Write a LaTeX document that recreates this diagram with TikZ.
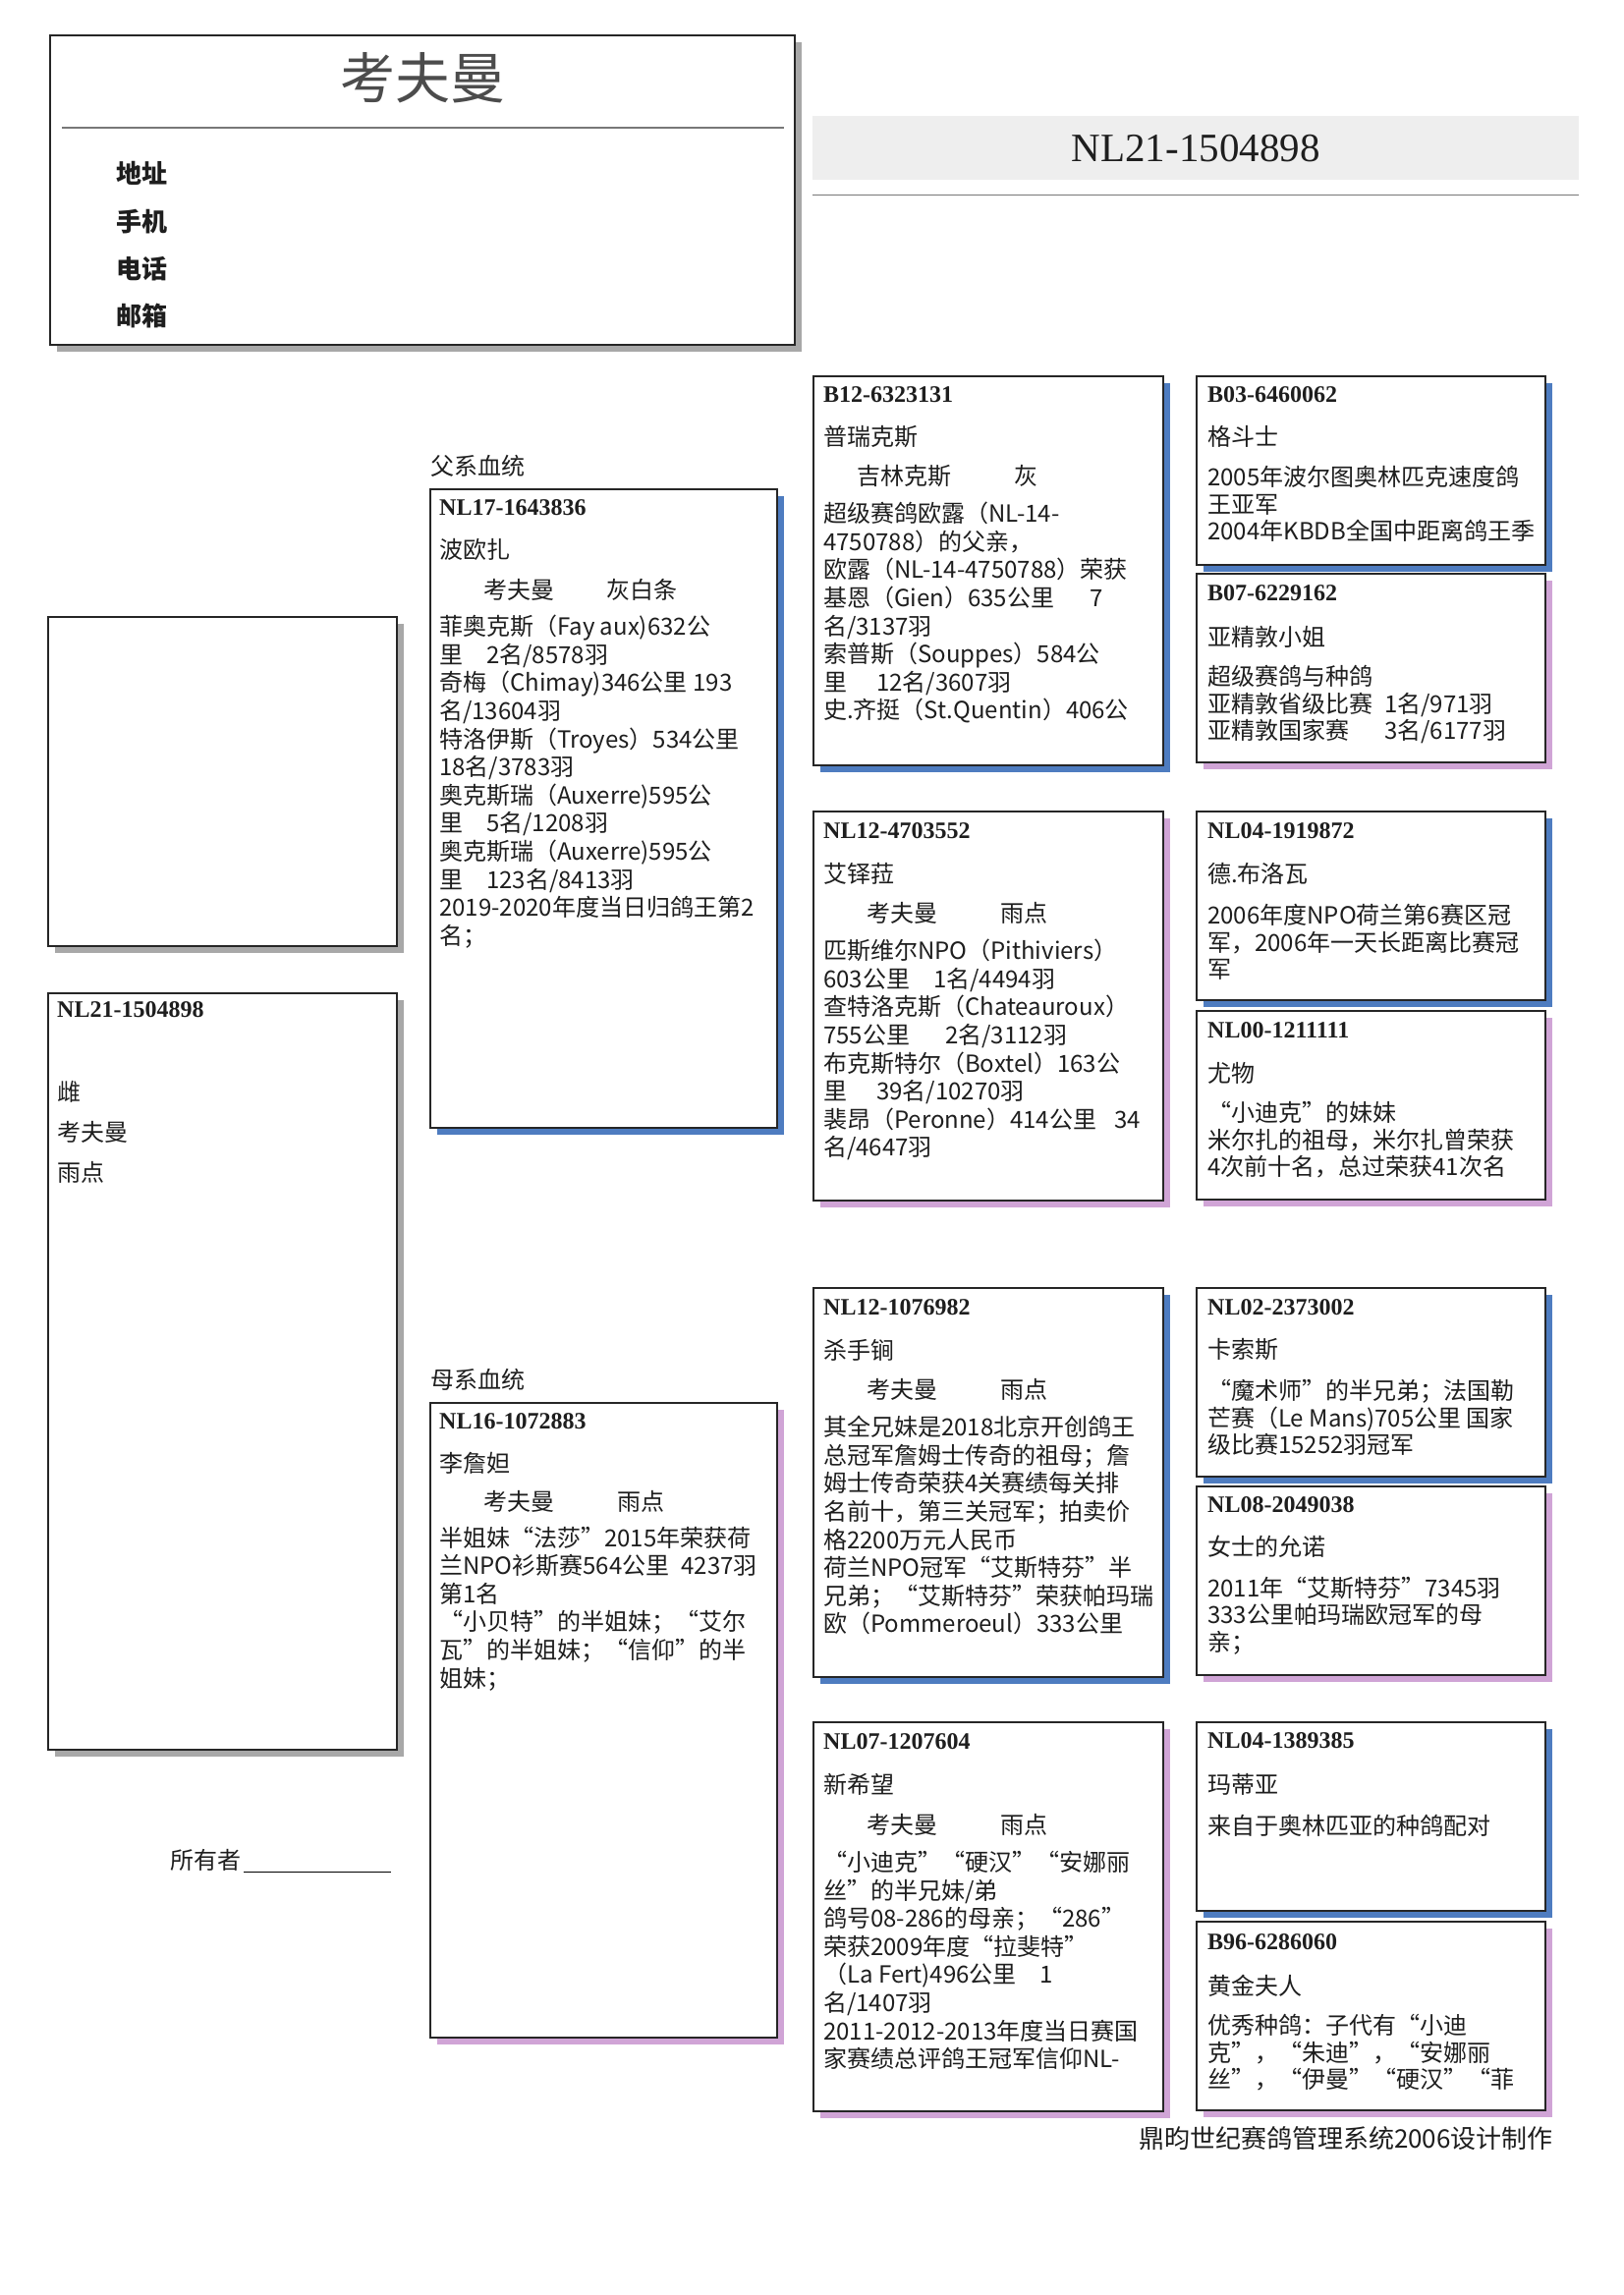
\documentclass[tikz,border=0pt]{standalone}
\usepackage{fontspec}
\setmainfont{Noto Sans CJK SC}
\newfontfamily\idfont{Liberation Serif}
\usetikzlibrary{positioning,shadows}
\definecolor{shblue}{RGB}{78,124,192}
\definecolor{shpink}{RGB}{208,164,214}
\definecolor{shgray}{RGB}{168,168,168}
\definecolor{boxline}{RGB}{38,38,38}
\definecolor{bandgray}{RGB}{238,238,238}
\definecolor{rulegray}{RGB}{120,120,120}
\definecolor{ink}{RGB}{30,30,30}

\begin{document}
\begin{tikzpicture}[x=1pt,y=-1pt,text=ink,
    pedbox/.style={draw=boxline,line width=2pt,fill=white,anchor=north west,inner sep=0pt},
    cock/.style={drop shadow={shadow xshift=7pt,shadow yshift=-7pt,fill=shblue,opacity=1}},
    hen/.style={drop shadow={shadow xshift=7pt,shadow yshift=-7pt,fill=shpink,opacity=1}},
    plainshadow/.style={drop shadow={shadow xshift=7pt,shadow yshift=-7pt,fill=shgray,opacity=1}},
    genone/.style={pedbox,minimum width=353pt,minimum height=650pt},
    gentwo/.style={pedbox,minimum width=356pt,minimum height=396pt},
    genthree/.style={pedbox,minimum width=355pt,minimum height=192pt},
    ring/.style={anchor=west,inner sep=0pt,font=\idfont\bfseries\fontsize{24}{24}\selectfont},
    bird/.style={anchor=west,inner sep=0pt,font=\fontsize{24}{24}\selectfont},
    info/.style={anchor=north west,inner sep=0pt,align=left,font=\fontsize{24}{28.6}\selectfont},
    infos/.style={info,font=\fontsize{24}{27.5}\selectfont}]
  \useasboundingbox[fill=white] (0,0) rectangle (1653,2336);

  % breeder card
  \node[pedbox,plainshadow,minimum width=758pt,minimum height=315pt] (card) at (50,35) {};
  \node[font=\fontsize{56}{56}\selectfont,text=black!70] (breeder) at ([yshift=-44pt]card.north) {考夫曼};
  \draw[rulegray,line width=1.5pt] ([shift={(13,95)}]card.north west) -- ([shift={(-12,95)}]card.north east);
  \node[info,font=\bfseries\fontsize{26}{48.3}\selectfont] (contact) at ([shift={(68,129.5)}]card.north west) {地址\\手机\\电话\\邮箱};

  % ring number header
  \node[fill=bandgray,anchor=north west,inner sep=0pt,minimum width=780pt,minimum height=65pt] (band) at (827,118) {};
  \node[font=\idfont\fontsize{41}{41}\selectfont] (ringhead) at (band.center) {NL21-1504898};
  \draw[rulegray,line width=1.5pt] ([yshift=-15pt]band.south west) -- ([yshift=-15pt]band.south east);

  % the pigeon itself
  \node[pedbox,plainshadow,minimum width=355pt,minimum height=335pt] (photo) at (48,627) {};
  \node[pedbox,plainshadow,minimum width=355pt,minimum height=770pt] (self) at (48,1010) {};
  \node[ring] (selfid) at ([shift={(10,18)}]self.north west) {NL21-1504898};
  \node[info,font=\fontsize{24}{41}\selectfont] (selfnotes) at ([shift={(10,90.5)}]self.north west) {雌\\考夫曼\\雨点};
  \node[bird,anchor=east] (owner) at (246,1893) {所有者};
  \draw[line width=1pt] ([shift={(2,3)}]owner.base east) -- ++(150,0);

  % frames
  \node[genone,cock] (sire) at (437,497) {};
  \node[genone,hen,minimum height=646pt] (dam) at (437,1427) {};
  \foreach \nm/\y/\sh in {ss/382/cock,sd/825/hen,ds/1310/cock,dd/1752/hen}
    \node[gentwo,\sh] (\nm) at (827,\y) {};
  \foreach \nm/\y/\sh in {sss/382/cock,ssd/583/hen,sds/825/cock,sdd/1028/hen,
                          dss/1310/cock,dsd/1512/hen,dds/1752/cock,ddd/1955/hen}
    \node[genthree,\sh] (\nm) at (1217,\y) {};

  \node[bird,anchor=west] (sirelabel) at ([shift={(1,-23)}]sire.north west) {父系血统};
  \node[bird,anchor=west] (damlabel) at ([shift={(1,-23)}]dam.north west) {母系血统};

  % sire
  \node[ring] (sireid) at ([shift={(10,19.5)}]sire.north west) {NL17-1643836};
  \node[bird] (sirename) at ([shift={(10,62.5)}]sire.north west) {波欧扎};
  \node[bird] (sirestrain) at ([shift={(55,103)}]sire.north west) {考夫曼\hspace{53pt}灰白条};
  \node[info] (sirenotes) at ([shift={(10,129)}]sire.north west) {菲奥克斯（Fay aux)632公\\里\hspace{24pt}2名/8578羽\\奇梅（Chimay)346公里 193\\名/13604羽\\特洛伊斯（Troyes）534公里\\18名/3783羽\\奥克斯瑞（Auxerre)595公\\里\hspace{24pt}5名/1208羽\\奥克斯瑞（Auxerre)595公\\里\hspace{24pt}123名/8413羽\\2019-2020年度当日归鸽王第2\\名；};

  % dam
  \node[ring] (damid) at ([shift={(10,19.5)}]dam.north west) {NL16-1072883};
  \node[bird] (damname) at ([shift={(10,62.5)}]dam.north west) {李詹妲};
  \node[bird] (damstrain) at ([shift={(55,101)}]dam.north west) {考夫曼\hspace{64pt}雨点};
  \node[info] (damnotes) at ([shift={(10,126.5)}]dam.north west) {半姐妹“法莎”2015年荣获荷\\兰NPO衫斯赛564公里\hspace{12pt}4237羽\\第1名\\“小贝特”的半姐妹；“艾尔\\瓦”的半姐妹；“信仰”的半\\姐妹；};

  % second generation
  \node[ring] (ssid) at ([shift={(11,19.5)}]ss.north west) {B12-6323131};
  \node[bird] (ssname) at ([shift={(11,62.5)}]ss.north west) {普瑞克斯};
  \node[bird] (ssstrain) at ([shift={(45,103)}]ss.north west) {吉林克斯\hspace{64pt}灰};
  \node[info] (ssnotes) at ([shift={(11,129)}]ss.north west) {超级赛鸽欧露（NL-14-\\4750788）的父亲，\\欧露（NL-14-4750788）荣获\\基恩（Gien）635公里\hspace{36pt}7\\名/3137羽\\索普斯（Souppes）584公\\里\hspace{30pt}12名/3607羽\\史.齐挺（St.Quentin）406公};

  \node[ring] (sdid) at ([shift={(11,21)}]sd.north west) {NL12-4703552};
  \node[bird] (sdname) at ([shift={(11,64)}]sd.north west) {艾铎菈};
  \node[bird] (sdstrain) at ([shift={(55,104)}]sd.north west) {考夫曼\hspace{64pt}雨点};
  \node[info] (sdnotes) at ([shift={(11,131)}]sd.north west) {匹斯维尔NPO（Pithiviers）\\603公里\hspace{24pt}1名/4494羽\\查特洛克斯（Chateauroux）\\755公里\hspace{36pt}2名/3112羽\\布克斯特尔（Boxtel）163公\\里\hspace{30pt}39名/10270羽\\裴昂（Peronne）414公里\hspace{18pt}34\\名/4647羽};

  \node[ring] (dsid) at ([shift={(11,21)}]ds.north west) {NL12-1076982};
  \node[bird] (dsname) at ([shift={(11,64)}]ds.north west) {杀手锏};
  \node[bird] (dsstrain) at ([shift={(55,104)}]ds.north west) {考夫曼\hspace{64pt}雨点};
  \node[info] (dsnotes) at ([shift={(11,131)}]ds.north west) {其全兄妹是2018北京开创鸽王\\总冠军詹姆士传奇的祖母；詹\\姆士传奇荣获4关赛绩每关排\\名前十，第三关冠军；拍卖价\\格2200万元人民币\\荷兰NPO冠军“艾斯特芬”半\\兄弟；“艾斯特芬”荣获帕玛瑞\\欧（Pommeroeul）333公里};

  \node[ring] (ddid) at ([shift={(11,21)}]dd.north west) {NL07-1207604};
  \node[bird] (ddname) at ([shift={(11,64)}]dd.north west) {新希望};
  \node[bird] (ddstrain) at ([shift={(55,105)}]dd.north west) {考夫曼\hspace{64pt}雨点};
  \node[info] (ddnotes) at ([shift={(11,132)}]dd.north west) {“小迪克”“硬汉”“安娜丽\\丝”的半兄妹/弟\\鸽号08-286的母亲；“286”\\荣获2009年度“拉斐特”\\（La Fert)496公里\hspace{24pt}1\\名/1407羽\\2011-2012-2013年度当日赛国\\家赛绩总评鸽王冠军信仰NL-};

  % third generation
  \node[ring] (sssid) at ([shift={(12,19.5)}]sss.north west) {B03-6460062};
  \node[bird] (sssname) at ([shift={(12,62.5)}]sss.north west) {格斗士};
  \node[infos] (sssnotes) at ([shift={(12,92.5)}]sss.north west) {2005年波尔图奥林匹克速度鸽\\王亚军\\2004年KBDB全国中距离鸽王季};

  \node[ring] (ssdid) at ([shift={(12,21)}]ssd.north west) {B07-6229162};
  \node[bird] (ssdname) at ([shift={(12,65)}]ssd.north west) {亚精敦小姐};
  \node[infos] (ssdnotes) at ([shift={(12,94)}]ssd.north west) {超级赛鸽与种鸽\\亚精敦省级比赛\hspace{12pt}1名/971羽\\亚精敦国家赛\hspace{36pt}3名/6177羽};

  \node[ring] (sdsid) at ([shift={(12,21)}]sds.north west) {NL04-1919872};
  \node[bird] (sdsname) at ([shift={(12,64)}]sds.north west) {德.布洛瓦};
  \node[infos] (sdsnotes) at ([shift={(12,95)}]sds.north west) {2006年度NPO荷兰第6赛区冠\\军，2006年一天长距离比赛冠\\军};

  \node[ring] (sddid) at ([shift={(12,21)}]sdd.north west) {NL00-1211111};
  \node[bird] (sddname) at ([shift={(12,64)}]sdd.north west) {尤物};
  \node[infos] (sddnotes) at ([shift={(12,93)}]sdd.north west) {“小迪克”的妹妹\\米尔扎的祖母，米尔扎曾荣获\\4次前十名，总过荣获41次名};

  \node[ring] (dssid) at ([shift={(12,21)}]dss.north west) {NL02-2373002};
  \node[bird] (dssname) at ([shift={(12,64)}]dss.north west) {卡索斯};
  \node[infos] (dssnotes) at ([shift={(12,94)}]dss.north west) {“魔术师”的半兄弟；法国勒\\芒赛（Le Mans)705公里 国家\\级比赛15252羽冠军};

  \node[ring] (dsdid) at ([shift={(12,20)}]dsd.north west) {NL08-2049038};
  \node[bird] (dsdname) at ([shift={(12,62)}]dsd.north west) {女士的允诺};
  \node[infos] (dsdnotes) at ([shift={(12,92.5)}]dsd.north west) {2011年“艾斯特芬”7345羽\\333公里帕玛瑞欧冠军的母\\亲；};

  \node[ring] (ddsid) at ([shift={(12,20)}]dds.north west) {NL04-1389385};
  \node[bird] (ddsname) at ([shift={(12,64)}]dds.north west) {玛蒂亚};
  \node[infos] (ddsnotes) at ([shift={(12,95)}]dds.north west) {来自于奥林匹亚的种鸽配对};

  \node[ring] (dddid) at ([shift={(12,22)}]ddd.north west) {B96-6286060};
  \node[bird] (dddname) at ([shift={(12,66)}]ddd.north west) {黄金夫人};
  \node[infos] (dddnotes) at ([shift={(12,95)}]ddd.north west) {优秀种鸽：子代有“小迪\\克”，“朱迪”，“安娜丽\\丝”，“伊曼”“硬汉”“菲};

  \node[anchor=east,inner sep=0pt,font=\fontsize{26}{26}\selectfont] (maker) at (1581,2177) {鼎昀世纪赛鸽管理系统2006设计制作};
\end{tikzpicture}
\end{document}
